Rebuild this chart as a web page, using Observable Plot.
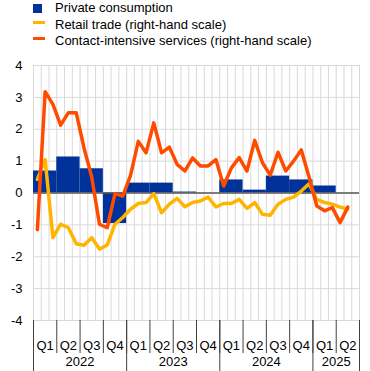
<!DOCTYPE html>
<html>
<head>
<meta charset="utf-8">
<script src="https://cdn.jsdelivr.net/npm/d3@7"></script>
<script src="https://cdn.jsdelivr.net/npm/@observablehq/plot@0.6"></script>
<style>
  html, body { margin: 0; padding: 0; background: #fff; }
  body { width: 370px; height: 371px; overflow: hidden; font-family: "Liberation Sans", Arial, sans-serif; }
  #legend { position: relative; height: 50px; width: 370px; font-size: 13px; color: #000; }
  .row { position: absolute; left: 0; height: 16px; line-height: 16px; white-space: nowrap; }
  .row span.lab { position: absolute; left: 55px; top: 0; }
  .sw { position: absolute; }
</style>
</head>
<body>
<div id="legend"></div>
<div id="chart"></div>
<script>
// ---- data ----
const years = [2022, 2023, 2024, 2025];
const quarterLabels = ["Q1", "Q2", "Q3", "Q4"];
// private consumption, quarterly (2022 Q1 .. 2025 Q1)
const consumption = [0.69, 1.13, 0.76, -0.96, 0.31, 0.31, 0.03, 0.0, 0.41, 0.09, 0.53, 0.41, 0.22];
// monthly series, Jan 2022 .. May 2025
const retail = [0.43, 1.05, -1.40, -0.98, -1.09, -1.59, -1.64, -1.40, -1.76, -1.63, -0.98, -0.77,
  -0.51, -0.33, -0.30, -0.02, -0.62, -0.35, -0.17, -0.43, -0.30, -0.25, -0.13, -0.44,
  -0.33, -0.33, -0.20, -0.48, -0.30, -0.67, -0.70, -0.35, -0.20, -0.13, 0.06, 0.29,
  -0.20, -0.30, -0.35, -0.44, -0.51];
const contact = [-1.15, 3.18, 2.78, 2.13, 2.52, 2.52, 1.42, 0.50, -0.98, -1.09, -0.02, -0.10,
  0.55, 1.62, 1.26, 2.20, 1.26, 1.44, 0.90, 0.69, 1.10, 0.85, 0.85, 1.05,
  0.22, 0.79, 1.11, 0.69, 1.65, 0.95, 0.56, 1.28, 0.69, 1.00, 1.35, 0.50,
  -0.41, -0.56, -0.46, -0.93, -0.44];
const seriesNames = ["Private consumption", "Retail trade (right-hand scale)", "Contact-intensive services (right-hand scale)"];
const colors = ["#003299", "#ffb400", "#ff4b00"];
const yTicks = [-4, -3, -2, -1, 0, 1, 2, 3, 4];

// ---- legend ----
const legend = document.getElementById("legend");
seriesNames.forEach((name, i) => {
  const row = document.createElement("div");
  row.className = "row";
  row.style.top = (i * 16.7) + "px";
  const sw = document.createElement("div");
  sw.className = "sw";
  if (i === 0) {
    sw.style.cssText = `left:33px;top:4px;width:9px;height:9px;background:${colors[i]}`;
  } else {
    sw.style.cssText = `left:33px;top:4px;width:12px;height:3px;background:${colors[i]}`;
  }
  row.appendChild(sw);
  const lab = document.createElement("span");
  lab.className = "lab";
  lab.textContent = name;
  row.appendChild(lab);
  legend.appendChild(row);
});

// ---- derived tables ----
const nMonths = 42;
const bars = consumption.map((v, q) => ({x1: q * 3, x2: q * 3 + 3, y: v}));
const retailPts = retail.map((v, i) => ({x: i + 0.5, y: v}));
const contactPts = contact.map((v, i) => ({x: i + 0.5, y: v}));
const monthEdges = d3.range(0, nMonths + 1);
const quarterEdges = d3.range(0, nMonths + 1, 3);
const quarterCenters = d3.range(0, nMonths / 3).map(q => q * 3 + 1.5);
const yearEdges = [0, 12, 24, 36, 42];
const yearCenters = years.map((y, i) => (yearEdges[i] + yearEdges[i + 1]) / 2);

const chart = Plot.plot({
  width: 370,
  height: 321,
  marginTop: 15,
  marginBottom: 51,
  marginLeft: 33,
  marginRight: 11,
  style: {fontFamily: "'Liberation Sans', Arial, sans-serif", fontSize: "13px", color: "#000", background: "#fff"},
  x: {domain: [0, nMonths], axis: null},
  y: {domain: [-4, 4], axis: null},
  marks: [
    Plot.ruleX(monthEdges, {stroke: "#d9d9d9", strokeWidth: 1}),
    Plot.ruleY(yTicks, {stroke: "#d9d9d9", strokeWidth: 1}),
    Plot.rectY(bars, {x1: "x1", x2: "x2", y: "y", fill: colors[0]}),
    Plot.ruleY([0], {stroke: "#595959", strokeWidth: 1.5}),
    Plot.line(retailPts, {x: "x", y: "y", stroke: colors[1], strokeWidth: 3.5, strokeLinejoin: "round"}),
    Plot.line(contactPts, {x: "x", y: "y", stroke: colors[2], strokeWidth: 3.5, strokeLinejoin: "round"}),
    Plot.axisY({ticks: yTicks, tickSize: 0, tickPadding: 11, fontSize: 13, label: null, tickFormat: d => String(d)}),
    Plot.axisX({ticks: quarterEdges, tickSize: 33, tickFormat: () => "", label: null, stroke: "#404040"}),
    Plot.axisX({ticks: yearEdges, tickSize: 51, tickFormat: () => "", label: null, stroke: "#404040"}),
    Plot.axisX({ticks: quarterCenters, tickSize: 0, tickPadding: 20, fontSize: 13, label: null, tickFormat: d => quarterLabels[Math.floor(d / 3) % 4]}),
    Plot.axisX({ticks: yearCenters, tickSize: 0, tickPadding: 36, fontSize: 13, label: null, tickFormat: (d, i) => String(years[i])})
  ]
});
document.getElementById("chart").appendChild(chart);
</script>
</body>
</html>
